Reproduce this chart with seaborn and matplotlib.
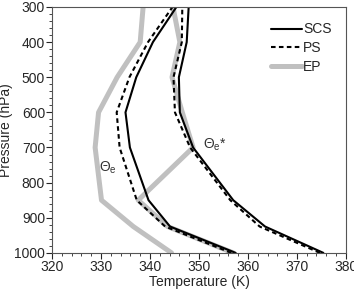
import numpy as np
import pandas as pd
import seaborn as sns
import matplotlib.pyplot as plt
from matplotlib.ticker import MultipleLocator

levels = [1000, 925, 850, 700, 600, 500, 400, 300]

# theta-e (K)
scs_te = [357.5, 344.1, 339.7, 335.9, 335.0, 337.2, 340.6, 345.4]
ps_te = [356.6, 343.1, 337.3, 333.8, 333.2, 335.8, 339.6, 344.6]
ep_te = [344.4, 336.6, 330.1, 328.8, 329.5, 333.3, 338.0, 338.6]

# saturated theta-e (K)
scs_tes = [375.4, 363.5, 357.0, 348.8, 346.1, 345.9, 347.5, 347.9]
ps_tes = [374.7, 362.4, 356.4, 348.2, 345.1, 344.8, 346.5, 346.6]
ep_tes = [357.0, 343.6, 337.6, 348.8, 346.6, 344.5, 346.1, 344.7]

regions = ['SCS', 'PS', 'EP']
styles = {
    'SCS': dict(color='black', lw=1.5, ls='-'),
    'PS': dict(color='black', lw=1.5, ls=(0, (2.2, 1.6))),
    'EP': dict(color='#c0c0c0', lw=3.6, ls='-'),
}

rows = []
for reg, te, tes in [('SCS', scs_te, scs_tes), ('PS', ps_te, ps_tes), ('EP', ep_te, ep_tes)]:
    for p, a, b in zip(levels, te, tes):
        rows.append((reg, 'te', p, a))
        rows.append((reg, 'tes', p, b))
df = pd.DataFrame(rows, columns=['region', 'kind', 'p', 'T'])

sns.set_style('ticks')
plt.rcParams['font.family'] = ['Liberation Sans', 'DejaVu Sans']
plt.rcParams['mathtext.fontset'] = 'custom'
plt.rcParams['mathtext.rm'] = 'Liberation Sans'

fig = plt.figure(figsize=(3.54, 2.91), dpi=100)
ax = fig.add_axes([0.147, 0.131, 0.83, 0.845])

for reg in ['EP', 'PS', 'SCS']:
    st = styles[reg]
    for kind in ['te', 'tes']:
        d = df[(df.region == reg) & (df.kind == kind)]
        sns.lineplot(data=d, x='T', y='p', sort=False, estimator=None, ax=ax,
                     color=st['color'], linewidth=st['lw'], linestyle=st['ls'],
                     legend=False)

ax.set_xlim(320, 380)
ax.set_ylim(1000, 300)
ax.xaxis.set_major_locator(MultipleLocator(10))
ax.xaxis.set_minor_locator(MultipleLocator(2))
ax.yaxis.set_major_locator(MultipleLocator(100))
ax.yaxis.set_minor_locator(MultipleLocator(20))
ax.tick_params(which='major', length=4, width=0.8, labelsize=10, pad=1)
ax.tick_params(which='minor', length=2, width=0.6)
for s in ax.spines.values():
    s.set_linewidth(0.8)
    s.set_color('#555555')

ax.set_xlabel('Temperature (K)', fontsize=10, labelpad=1)
ax.set_ylabel('Pressure (hPa)', fontsize=10, labelpad=1)

ax.text(331.4, 758, r'$\Theta_\mathrm{e}$', fontsize=10, ha='center', va='center', color='#333333')
ax.text(353.2, 693, r'$\Theta_\mathrm{e}$*', fontsize=10, ha='center', va='center', color='#333333')

handles = [plt.Line2D([], [], color=styles[r]['color'], linewidth=styles[r]['lw'],
                      linestyle=styles[r]['ls']) for r in regions]
ax.legend(handles, regions, loc='upper right', bbox_to_anchor=(0.97, 0.96), frameon=False,
          fontsize=10, handlelength=2.2, handletextpad=0.1, labelspacing=0.35, borderaxespad=0)

fig.savefig('out.png', dpi=100)
